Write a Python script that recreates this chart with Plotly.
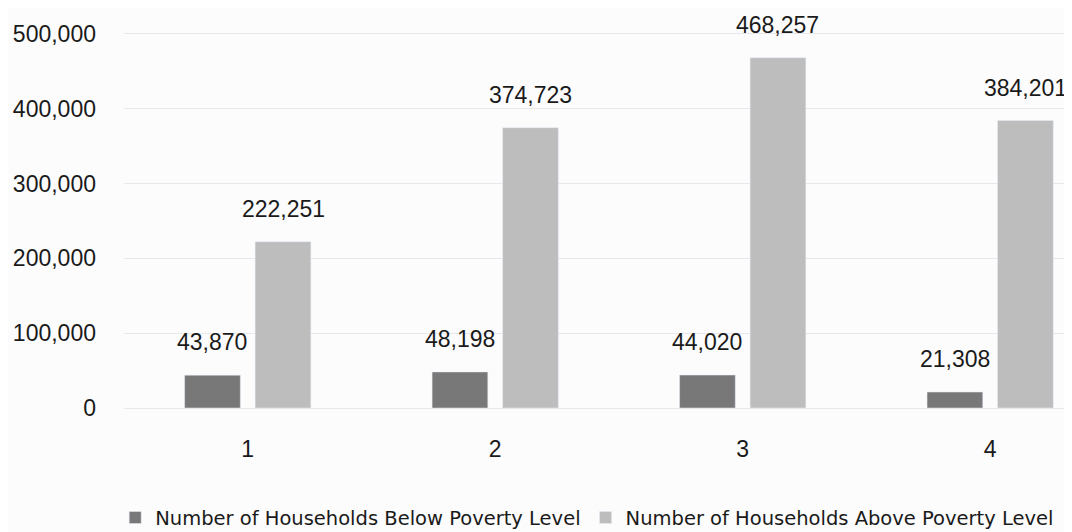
import plotly.graph_objects as go

# ---------------------------------------------------------------------------
# Data
# ---------------------------------------------------------------------------
categories = ["1", "2", "3", "4"]
below_poverty = [43870, 48198, 44020, 21308]
above_poverty = [222251, 374723, 468257, 384201]
y_ticks = [0, 100000, 200000, 300000, 400000, 500000]

COLORS = {
    "bg": "#fcfcfc",
    "dark": "#787878",
    "light": "#bdbdbd",
    "grid": "#e6e8ec",
    "text": "#1a1a1a",
}
FONT = "Liberation Sans, Arial, sans-serif"

# geometry
W, H = 1072, 532
MARGIN = dict(l=116, r=0, t=11, b=132)
X_RANGE = [-0.5, 3.363]
BARGAP = 0.43
px_per_cat = (W - MARGIN["l"] - MARGIN["r"]) / (X_RANGE[1] - X_RANGE[0])
bar_offset = (1 - BARGAP) / 4 * px_per_cat   # centre of each bar vs. category centre

fig = go.Figure()

fig.add_trace(go.Bar(
    x=categories, y=below_poverty,
    name="Number of Households Below Poverty Level",
    marker_color=COLORS["dark"],
))
fig.add_trace(go.Bar(
    x=categories, y=above_poverty,
    name="Number of Households Above Poverty Level",
    marker_color=COLORS["light"],
))

# value labels above bars (x given as category position on the axis)
for values, shift in [(below_poverty, -bar_offset), (above_poverty, bar_offset)]:
    for i, v in enumerate(values):
        fig.add_annotation(
            x=i, y=v, text=f"{v:,}",
            showarrow=False, yanchor="bottom",
            xshift=shift, yshift=18,
            font=dict(size=23, color=COLORS["text"], family=FONT),
        )

fig.update_layout(
    width=W, height=H,
    paper_bgcolor=COLORS["bg"],
    plot_bgcolor=COLORS["bg"],
    font=dict(family=FONT, color=COLORS["text"], size=23),
    margin=MARGIN,
    barmode="group",
    bargap=BARGAP,
    bargroupgap=0.21,
    xaxis=dict(
        type="category",
        range=X_RANGE,
        showgrid=False, zeroline=False,
        showline=True, linecolor=COLORS["grid"], linewidth=1,
        ticks="", ticklabelstandoff=20,
        tickfont=dict(size=23),
    ),
    yaxis=dict(
        range=[0, 520000],
        tickvals=y_ticks,
        tickformat=",d",
        gridcolor=COLORS["grid"], gridwidth=1,
        zeroline=False, showline=False,
        ticklabelstandoff=27,
        tickfont=dict(size=23),
    ),
    legend=dict(
        orientation="h",
        xref="container", yref="container",
        x=0.1, xanchor="left",
        y=0.005, yanchor="bottom",
        font=dict(size=19.5, family="DejaVu Sans, sans-serif"),
        bgcolor="rgba(0,0,0,0)",
        itemwidth=30,
        traceorder="normal",
    ),
)

fig.write_html("out.html")
